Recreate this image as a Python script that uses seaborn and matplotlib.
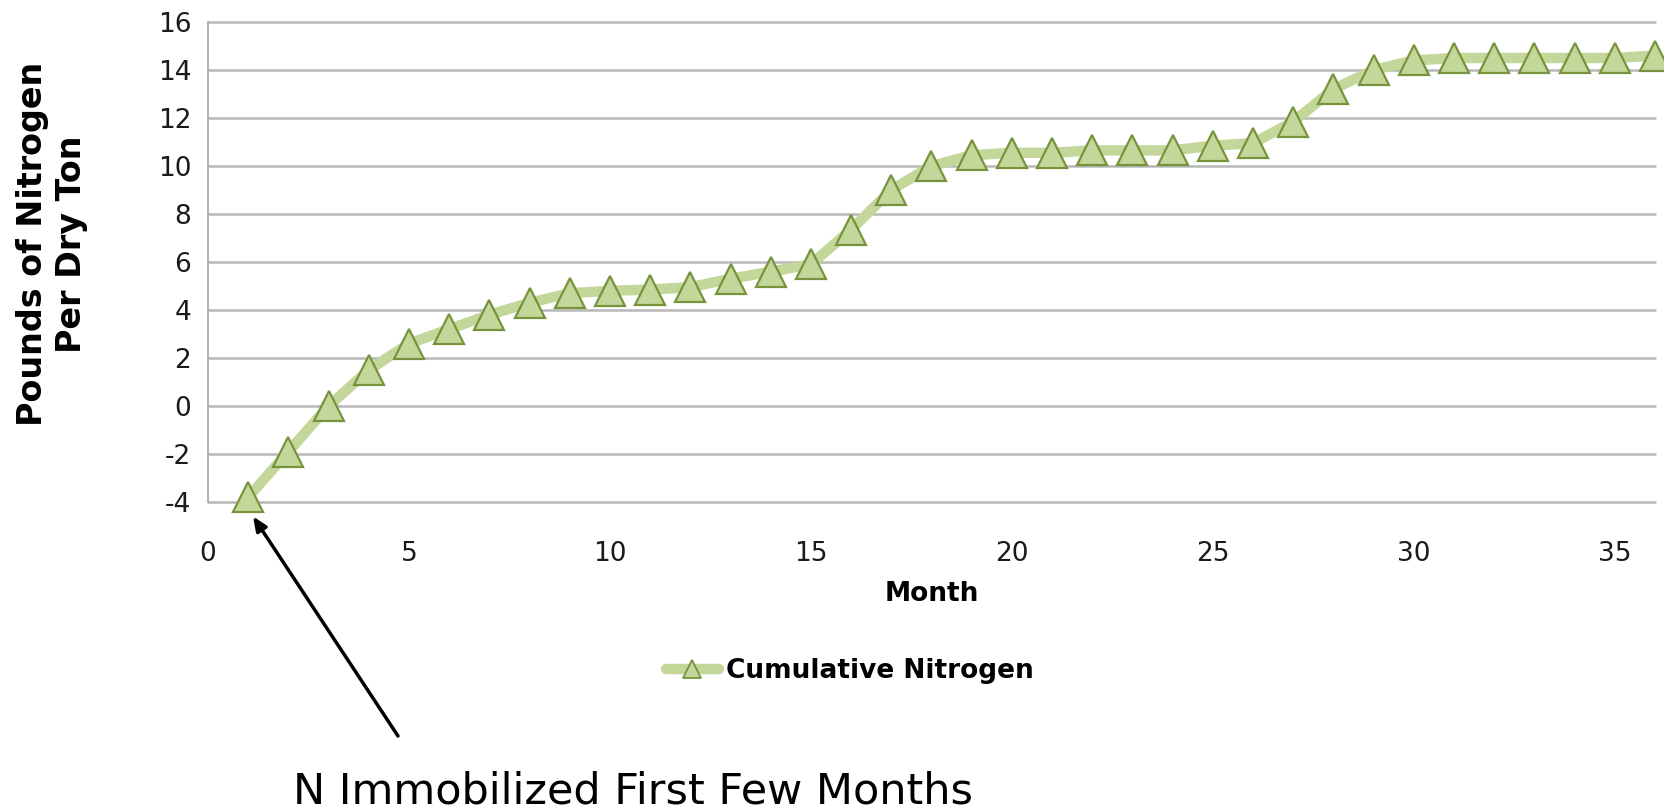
import matplotlib
matplotlib.use("Agg")
import matplotlib.pyplot as plt
from matplotlib.lines import Line2D
import seaborn as sns
import pandas as pd

# ---- data ----
months = list(range(1, 37))
cumulative_n = [-3.8, -1.9, 0.0, 1.5, 2.6, 3.2, 3.8, 4.3, 4.7, 4.8,
                4.85, 4.95, 5.3, 5.6, 5.9, 7.35, 9.0, 10.0, 10.45, 10.55,
                10.55, 10.65, 10.65, 10.65, 10.85, 10.95, 11.85, 13.2, 14.0, 14.4,
                14.5, 14.5, 14.5, 14.5, 14.5, 14.6]
y_ticks = [-4, -2, 0, 2, 4, 6, 8, 10, 12, 14, 16]
x_ticks = [0, 5, 10, 15, 20, 25, 30, 35]
series_name = "Cumulative Nitrogen"
x_label = "Month"
y_label = "Pounds of Nitrogen\nPer Dry Ton"
note = "N Immobilized First Few Months"

LINE_C = "#c4d79b"
EDGE_C = "#77933c"
GRID_C = "#b8b8b8"

sns.set_theme(style="white")
plt.rcParams["font.family"] = ["DejaVu Sans"]
plt.rcParams["text.color"] = "black"

df = pd.DataFrame({"Month": months, "N": cumulative_n})

fig = plt.figure(figsize=(16.65, 8.11), dpi=100)
ax = fig.add_axes([208 / 1665, 1 - 502 / 811, (1655 - 208) / 1665, (502 - 22) / 811])

sns.lineplot(data=df, x="Month", y="N", ax=ax, color=LINE_C, linewidth=7.5,
             marker="^", markersize=22, markerfacecolor=LINE_C,
             markeredgecolor=EDGE_C, markeredgewidth=1.6,
             solid_joinstyle="round", solid_capstyle="round",
             clip_on=False, zorder=5, legend=False)

ax.set_xlim(0, 36)
ax.set_ylim(-4, 16)
ax.set_yticks(y_ticks)
ax.set_xticks(x_ticks)
ax.set_yticklabels([str(v) for v in y_ticks], fontsize=19, color="#1a1a1a")
ax.set_xticklabels([str(v) for v in x_ticks], fontsize=19, color="#1a1a1a")
ax.tick_params(axis="y", length=0, pad=12)
ax.tick_params(axis="x", length=0, pad=28)

ax.yaxis.grid(True, color=GRID_C, linewidth=1.8)
ax.xaxis.grid(False)
ax.set_axisbelow(True)
for gl in ax.get_ygridlines():
    gl.set_clip_on(False)
for s in ["top", "right", "bottom"]:
    ax.spines[s].set_visible(False)
ax.spines["left"].set_color("#a6a6a6")
ax.spines["left"].set_linewidth(1.2)

ax.set_xlabel(x_label, fontsize=19, fontweight="bold", labelpad=10, color="black")
ax.set_ylabel("")
fig.text(52 / 1665, 1 - 244 / 811, y_label, rotation=90, ha="center", va="center",
         multialignment="center", fontsize=24, fontweight="bold", linespacing=1.2,
         color="black")

handle = Line2D([], [], color=LINE_C, linewidth=7.5, marker="^", markersize=13,
                markerfacecolor=LINE_C, markeredgecolor=EDGE_C, markeredgewidth=1.3)
fig.legend([handle], [series_name], loc="center", bbox_to_anchor=(850 / 1665, 1 - 671 / 811),
           frameon=False, handlelength=2.0, handletextpad=0.3,
           prop={"size": 19, "weight": "bold"}, labelcolor="black")

ax.annotate("", xy=(1.12, -4.6), xycoords="data",
            xytext=(398 / 1665, 1 - 736 / 811), textcoords="figure fraction",
            arrowprops=dict(arrowstyle="-|>,head_length=0.7,head_width=0.3",
                            color="black", lw=2.5, shrinkA=0, shrinkB=0),
            annotation_clip=False)
fig.text(633 / 1665, 1 - 791 / 811, note, ha="center", va="center", fontsize=31,
         color="black")

fig.savefig("out.png", dpi=100)
